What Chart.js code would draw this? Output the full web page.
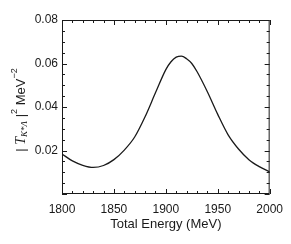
<!DOCTYPE html>
<html>
<head>
<meta charset="utf-8">
<script src="https://cdn.jsdelivr.net/npm/chart.js@4/dist/chart.umd.min.js"></script>
<style>
  html, body { margin: 0; padding: 0; background: #fff; }
  #wrap { width: 291px; height: 244px; }
</style>
</head>
<body>
<div id="wrap"><canvas id="c" width="291" height="244"></canvas></div>
<script>
// energies in MeV and |T|^2 in MeV^-2
const energies = [1800, 1810, 1820, 1830, 1840, 1850, 1860, 1870, 1880, 1890, 1900, 1905, 1910, 1915, 1920, 1925, 1930, 1940, 1950, 1960, 1970, 1980, 1990, 2000]
const amplitude = [0.0184, 0.0152, 0.0132, 0.0122, 0.0131, 0.0158, 0.0202, 0.0262, 0.0355, 0.0465, 0.0572, 0.0608, 0.0629, 0.0634, 0.0622, 0.0600, 0.0563, 0.0470, 0.0366, 0.0272, 0.0207, 0.0158, 0.0126, 0.0102]
const xTicks = [1800, 1850, 1900, 1950, 2000]
const yTicks = [0.02, 0.04, 0.06, 0.08]

const ink = '#1a1a1a'
const sans = '"Liberation Sans", Arial, sans-serif'

// inward ticks on all four sides plus the frame
const frameTicks = {
    id: 'frameTicks',
    afterDraw(chart) {
        const {ctx, chartArea: a, scales: {x, y}} = chart
        ctx.save()
        ctx.strokeStyle = ink
        ctx.lineWidth = 1
        ctx.strokeRect(a.left + 0.5, a.top + 0.5, a.right - a.left - 1, a.bottom - a.top - 1)
        ctx.beginPath()
        for (let e = 1800; e <= 2000; e += 10) {
            const px = Math.round(x.getPixelForValue(e)) + 0.5
            const len = e % 50 === 0 ? 5 : 3
            ctx.moveTo(px, a.bottom); ctx.lineTo(px, a.bottom - len)
            ctx.moveTo(px, a.top); ctx.lineTo(px, a.top + len)
        }
        for (let i = 0; i <= 16; i++) {
            const v = i * 0.005
            const py = Math.round(y.getPixelForValue(v)) + 0.5
            const len = i % 4 === 0 ? 5 : 3
            ctx.moveTo(a.left, py); ctx.lineTo(a.left + len, py)
            ctx.moveTo(a.right, py); ctx.lineTo(a.right - len, py)
        }
        ctx.stroke()

        // y title: |T_{K*Λ}|^2 MeV^-2, rotated
        const parts = [
            {t: '| ', f: '13px ' + sans, dy: 0},
            {t: 'T', f: 'italic 14px "Liberation Serif", serif', dy: 0},
            {t: 'K*Λ', f: 'italic 9px "Liberation Serif", serif', dy: 4},
            {t: ' |', f: '13px ' + sans, dy: 0},
            {t: '2', f: '9px ' + sans, dy: -6},
            {t: ' MeV', f: '13px ' + sans, dy: 0},
            {t: '\u22122', f: '9px ' + sans, dy: -6},
        ]
        let total = 0
        for (const p of parts) { ctx.font = p.f; p.w = ctx.measureText(p.t).width; total += p.w }
        ctx.translate(21, 110)
        ctx.rotate(-Math.PI / 2)
        ctx.fillStyle = ink
        ctx.textBaseline = 'middle'
        let cx = -total / 2
        for (const p of parts) {
            ctx.font = p.f
            ctx.fillText(p.t, cx, p.dy)
            cx += p.w
        }
        ctx.restore()
    }
}

new Chart(document.getElementById('c').getContext('2d'), {
    type: 'line',
    data: {
        datasets: [{
            data: energies.map((e, i) => ({x: e, y: amplitude[i]})),
            borderColor: ink,
            borderWidth: 1.3,
            pointRadius: 0,
            cubicInterpolationMode: 'monotone',
            fill: false,
        }]
    },
    options: {
        responsive: false,
        animation: false,
        layout: {padding: {left: 0, top: 20, right: 18, bottom: 0}},
        plugins: {legend: {display: false}, tooltip: {enabled: false}},
        scales: {
            x: {
                type: 'linear',
                min: 1800, max: 2000,
                afterFit: s => { s.height = 50 },
                afterBuildTicks: s => { s.ticks = xTicks.map(v => ({value: v})) },
                grid: {display: false, drawTicks: false, tickLength: 0},
                border: {display: false},
                ticks: {color: ink, font: {family: sans, size: 12}, padding: 8, maxRotation: 0, callback: v => String(v)},
                title: {display: true, text: 'Total Energy (MeV)', color: ink, font: {family: sans, size: 13}, padding: {top: 2, bottom: 12}},
            },
            y: {
                type: 'linear',
                min: 0, max: 0.08,
                afterFit: s => { s.width = 62 },
                afterBuildTicks: s => { s.ticks = yTicks.map(v => ({value: v})) },
                grid: {display: false, drawTicks: false, tickLength: 0},
                border: {display: false},
                ticks: {color: ink, font: {family: sans, size: 12}, padding: 4, callback: v => v.toFixed(2)},
            }
        }
    },
    plugins: [frameTicks]
})
</script>
</body>
</html>
